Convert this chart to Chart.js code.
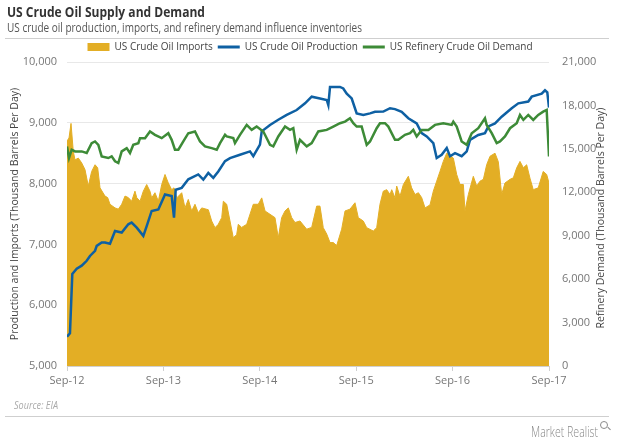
<!DOCTYPE html>
<html>
<head>
<meta charset="utf-8">
<script src="https://cdn.jsdelivr.net/npm/chart.js@4.4.0/dist/chart.umd.min.js"></script>
<style>
html,body{margin:0;padding:0;background:#fff;}
#wrap{position:relative;width:620px;height:445px;overflow:hidden;font-family:"Open Sans",sans-serif;}
#c{position:absolute;left:0;top:0;}
.t{position:absolute;white-space:nowrap;transform-origin:0 0;line-height:1.3;}
#title{left:7px;top:3px;font-size:14px;font-weight:700;color:#333;}
#subtitle{left:7px;top:20px;font-size:12px;color:#555;}
.rule{position:absolute;left:5px;width:604px;height:1px;background:#cfcfcf;}
#r2title{position:absolute;left:450px;top:211px;width:300px;height:14px;line-height:14px;text-align:center;font-size:10.5px;color:#444;transform:rotate(-90deg);transform-origin:50% 50%;white-space:nowrap;}
#source{left:14px;top:399px;font-size:10px;font-style:italic;color:#aaa;}
#brand{left:531px;top:423px;font-size:14px;color:#8a8a8a;font-weight:300;}
#lens{position:absolute;left:600px;top:421px;width:6px;height:6px;border:1.3px solid #8a8a8a;border-radius:50%;}
#lens:after{content:"";position:absolute;left:6px;top:6px;width:4px;height:1.3px;background:#8a8a8a;transform:rotate(45deg);}
</style>
</head>
<body>
<div id="wrap">
  <canvas id="c" width="620" height="445"></canvas>
  <div class="t" id="title">US Crude Oil Supply and Demand</div>
  <div class="t" id="subtitle">US crude oil production, imports, and refinery demand influence inventories</div>
  <div class="rule" style="top:38px"></div>
  <div id="r2title">Refinery Demand (Thousand Barrels Per Day)</div>
  <div class="t" id="source">Source: EIA</div>
  <div class="rule" style="top:416px"></div>
  <div class="t" id="brand">Market Realist</div>
  <div id="lens"></div>
</div>
<script>
// ---- Data (x = months since Sep 2012) ----
const xTickLabels = ['Sep-12','Sep-13','Sep-14','Sep-15','Sep-16','Sep-17'];

const impMonths = [0,0.25,0.50,0.78,1.0,1.41,1.83,2.24,2.65,3.07,3.49,3.82,4.11,4.73,5.06,5.35,5.98,6.39,6.81,7.22,7.63,8.05,8.46,8.68,9.09,9.50,9.92,10.33,10.54,10.95,11.37,11.79,12.20,12.61,13.03,13.32,13.66,14.07,14.28,14.69,15.10,15.52,15.93,16.34,16.77,17.59,18.01,18.42,18.83,19.26,19.46,19.88,20.29,20.70,21.12,21.32,21.74,22.37,23.19,23.81,24.24,24.65,25.27,25.89,26.30,26.72,27.14,27.55,27.97,28.38,29.00,29.84,30.46,31.08,31.49,31.90,32.33,32.74,33.15,33.57,34.19,34.61,35.23,35.85,36.26,36.88,37.31,38.13,38.55,38.96,39.37,39.80,40.21,40.42,40.83,41.04,41.45,41.87,42.49,42.90,43.32,43.74,44.15,44.57,45.19,45.60,46.02,46.43,46.84,47.27,47.68,48.09,48.51,48.92,49.34,49.54,49.96,50.58,51.00,51.41,51.83,52.24,52.66,53.28,53.69,54.11,54.52,55.15,55.56,55.98,56.39,56.81,57.22,57.63,58.04,58.66,59.28,59.71,60];
const impValues = [8700,8750,8990,8530,8390,8420,8340,8230,7960,8200,8310,8260,7930,7795,7770,7660,7600,7580,7660,7795,7770,7710,7875,7770,7710,7875,7985,7875,7765,7850,7710,7985,8150,8010,7900,7930,7765,7820,7850,7600,7740,7550,7660,7520,7600,7570,7385,7275,7330,7440,7710,7660,7385,7110,7160,7330,7280,7330,7660,7660,7765,7550,7495,7440,7110,7440,7550,7600,7440,7360,7385,7250,7280,7630,7630,7275,7170,7030,7030,6980,7250,7550,7580,7685,7440,7385,7275,7220,7275,7660,7875,7900,7820,7900,7765,7960,7790,7985,8120,7930,7820,7850,7770,7600,7650,7875,8040,8200,8365,8500,8470,8420,8150,7985,7985,7550,7820,8120,7960,8040,8070,8310,8450,8500,8360,7820,8010,8070,8095,8260,8365,8260,8310,8090,7900,7930,8200,8150,8010];

const prodMonths = [0,0.37,0.66,1.21,1.83,2.45,2.86,3.49,3.70,4.32,4.73,5.35,5.98,6.81,7.63,8.05,8.68,9.50,9.92,10.54,11.37,12.20,13.03,13.32,13.53,14.28,15.10,16.34,16.97,17.59,18.21,18.83,19.67,20.29,21.53,22.78,23.19,24.02,24.24,25.27,26.30,27.35,28.59,29.63,30.46,31.49,32.33,32.53,32.74,33.98,34.39,34.82,35.44,36.06,36.88,37.72,38.34,39.37,40.21,40.83,41.66,42.49,43.53,44.15,44.78,45.60,46.02,46.64,47.27,47.68,48.30,49.13,49.76,50.17,51.20,52.03,52.45,53.28,54.11,55.36,56.18,57.42,57.85,59.09,59.50,59.79,60];
const prodValues = [5480,5540,6515,6600,6650,6730,6810,6895,6975,7030,7030,7010,7220,7195,7330,7360,7275,7140,7300,7550,7575,7820,7795,7440,7900,7930,8070,8150,8065,8175,8095,8200,8370,8420,8475,8530,8450,8640,8860,8965,9050,9130,9210,9320,9430,9400,9375,9290,9590,9590,9565,9480,9400,9155,9130,9155,9180,9185,9240,9225,9180,9075,8990,8830,8775,8665,8420,8475,8585,8450,8500,8450,8530,8720,8800,8830,8940,8990,9100,9240,9320,9350,9430,9480,9535,9500,9250];

const refMonths = [0,0.25,0.58,1.0,1.83,2.45,3.07,3.49,3.90,4.32,5.14,5.56,5.98,6.39,6.81,7.43,7.84,8.25,8.88,9.09,9.71,10.33,10.95,11.79,12.61,13.03,13.44,13.86,14.48,15.10,15.93,16.56,17.18,18.01,18.64,19.05,19.67,19.88,20.70,20.91,21.53,22.37,22.99,23.61,24.44,25.27,25.68,26.30,27.14,27.76,28.17,28.59,29.00,29.84,30.46,31.28,32.33,33.15,33.98,34.61,35.23,35.64,36.06,36.68,37.31,37.72,38.55,38.96,39.58,40.0,40.83,41.24,42.07,42.70,43.11,43.53,44.15,44.98,45.81,46.84,47.89,48.09,48.51,49.13,49.76,50.38,51.20,52.03,52.24,52.87,53.49,53.90,54.52,55.15,55.98,56.39,56.81,57.42,58.04,58.66,59.28,59.71,60];
const refValues = [15170,14365,14940,14825,14825,14710,15395,15510,15280,14480,14365,14480,14140,14020,14825,15050,14710,15280,15395,15740,15740,16200,15970,15740,16080,15625,14940,14940,15510,16080,16200,15510,15170,15050,14940,15395,15970,15855,15740,15395,15970,16655,16310,16540,16200,15280,15170,15855,16540,16310,16425,14940,15625,15170,15395,16200,16310,16540,16770,16880,17110,16770,16540,16540,15280,15510,16425,16770,16770,16540,15625,15625,15970,16080,16310,15855,16310,16310,16655,16770,16655,16880,16540,15510,15280,16080,16425,17110,16655,16080,15395,15510,15855,16425,16770,17340,17000,17340,17000,17340,17570,17685,14480];

const seriesNames = ['US Crude Oil Imports','US Crude Oil Production','US Refinery Crude Oil Demand'];
const leftAxisTitle = 'Production and Imports (Thousand Barrels Per Day)';

// ---- Styles ----
const ORANGE = 'rgb(227,174,37)';
const BLUE = 'rgb(14,96,163)';
const GREEN = 'rgb(61,139,55)';
const FONT = "'Open Sans', sans-serif";

function toPts(xs, ys){ return xs.map((x,i)=>({x:x, y:ys[i]})); }

function fit(id, w){
  const el = document.getElementById(id);
  const r = el.getBoundingClientRect().width;
  if (r > 0) el.style.transform = 'scaleX(' + (w / r) + ')';
}

function draw(){
  fit('title', 198);
  fit('subtitle', 355);
  fit('source', 44);
  fit('brand', 67);

  Chart.defaults.font.family = FONT;
  new Chart(document.getElementById('c'), {
    type: 'line',
    data: {
      datasets: [
        { label: seriesNames[0], data: toPts(impMonths, impValues), yAxisID: 'y',
          backgroundColor: ORANGE, borderColor: ORANGE, borderWidth: 1, fill: 'start',
          pointRadius: 0, tension: 0, order: 2 },
        { label: seriesNames[1], data: toPts(prodMonths, prodValues), yAxisID: 'y',
          borderColor: BLUE, backgroundColor: BLUE, borderWidth: 2.5, fill: false,
          pointRadius: 0, tension: 0, order: 1 },
        { label: seriesNames[2], data: toPts(refMonths, refValues), yAxisID: 'y2',
          borderColor: GREEN, backgroundColor: GREEN, borderWidth: 2.5, fill: false,
          pointRadius: 0, tension: 0, order: 0 }
      ]
    },
    options: {
      responsive: false,
      animation: false,
      layout: { padding: { top: 37, left: 0, right: 0, bottom: 49 } },
      plugins: {
        tooltip: { enabled: false },
        legend: {
          position: 'top',
          labels: {
            usePointStyle: true, pointStyleWidth: 22, boxHeight: 8, padding: 5,
            color: '#444', font: { size: 10, family: FONT },
            sort: (a, b) => a.datasetIndex - b.datasetIndex,
            generateLabels: function(chart){
              const items = Chart.defaults.plugins.legend.labels.generateLabels(chart);
              items.forEach(it => {
                if (it.datasetIndex === 0) { it.pointStyle = 'rect'; it.lineWidth = 0; }
                else { it.pointStyle = 'line'; it.lineWidth = 3; }
              });
              return items;
            }
          }
        }
      },
      scales: {
        x: {
          type: 'linear', min: 0, max: 60,
          ticks: { stepSize: 12, color: '#777', font: { size: 11 }, padding: 3, maxRotation: 0,
                   callback: v => xTickLabels[Math.round(v / 12)] },
          grid: { drawOnChartArea: false, tickLength: 5, color: '#d0d0d0' },
          border: { color: '#d0d0d0' },
          afterFit: s => { s.height = 30; }
        },
        y: {
          position: 'left', min: 5000, max: 10000,
          ticks: { stepSize: 1000, padding: 10, color: '#777', font: { size: 11 } },
          grid: { color: '#e8e8e8', drawTicks: false },
          border: { display: false },
          title: { display: true, text: leftAxisTitle, color: '#444', font: { size: 10.5 }, padding: { top: 9, bottom: 0 } },
          afterFit: s => { s.width = 67; }
        },
        y2: {
          position: 'right', min: 0, max: 21000,
          ticks: { stepSize: 3000, padding: 13, color: '#777', font: { size: 11 } },
          grid: { display: false, drawTicks: false },
          border: { display: false },
          afterFit: s => { s.width = 71; }
        }
      }
    }
  });
}

Promise.all([
  document.fonts.load('11px "Open Sans"'),
  document.fonts.load('700 14px "Open Sans"'),
  document.fonts.load('italic 10px "Open Sans"'),
  document.fonts.load('300 14px "Open Sans"')
]).then(draw, draw);
</script>
</body>
</html>
